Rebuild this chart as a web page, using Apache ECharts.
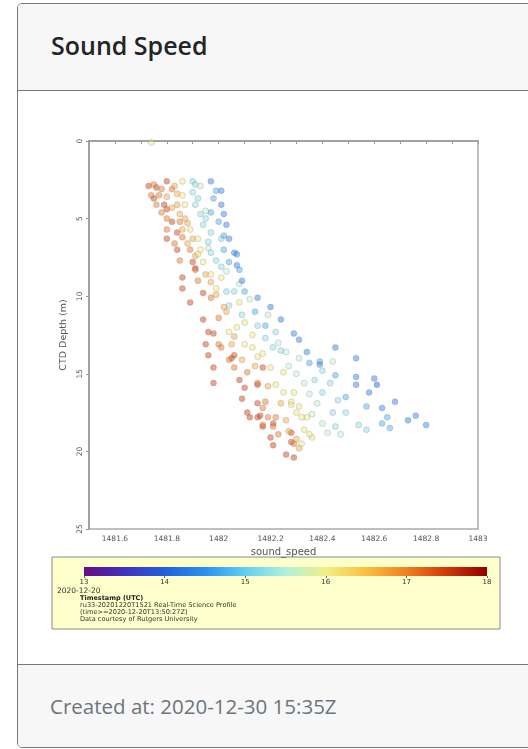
<!DOCTYPE html>
<html>
<head>
<meta charset="utf-8">
<title>Sound Speed</title>
<script src="https://cdn.jsdelivr.net/npm/echarts@6/dist/echarts.min.js"></script>
<style>
  html, body { margin: 0; padding: 0; background: #fff; width: 528px; height: 749px; overflow: hidden; font-family: "Open Sans", sans-serif; }
  .card { position: absolute; left: 17px; top: 3px; width: 600px; height: 745px; border: 1px solid #777; border-radius: 5px; background: #fff; box-sizing: border-box; overflow: hidden; }
  .card-header { height: 87px; background: #f7f7f7; border-bottom: 1px solid #777; box-sizing: border-box; padding: 0 0 4px 33px; display: flex; align-items: center; font-size: 25px; font-weight: 600; color: #212529; }
  .card-footer { position: absolute; left: 0; right: 0; bottom: 0; height: 83px; background: #f7f7f7; border-top: 1px solid #777; box-sizing: border-box; padding-left: 32px; display: flex; align-items: center; font-size: 20.5px; color: #6c757d; }
  #chart { position: absolute; left: 0; top: 0; width: 528px; height: 749px; }
</style>
</head>
<body>
<div class="card">
  <div class="card-header">Sound Speed</div>
  <div class="card-footer">Created at: 2020-12-30 15:35Z</div>
</div>
<div id="chart"></div>
<script>
// [sound_speed, depth] per profile, colour = hour of 2020-12-20 (UTC)
var redPts = [
  [1481.73, 2.9], [1481.76, 3.0], [1481.80, 2.6], [1481.75, 3.7], [1481.79, 4.1], [1481.80, 4.4],
  [1481.82, 5.2], [1481.84, 5.9], [1481.80, 6.3], [1481.84, 7.0], [1481.90, 7.8], [1481.91, 8.2],
  [1481.86, 8.8], [1481.86, 9.5], [1481.94, 9.8], [1481.89, 10.4], [1481.94, 11.5], [1481.98, 12.4],
  [1481.95, 13.1], [1481.96, 13.8], [1482.06, 13.8], [1481.96, 12.3], [1481.98, 14.6], [1481.98, 15.6],
  [1482.05, 14.0], [1482.08, 15.4], [1482.11, 17.5], [1482.15, 15.7], [1482.15, 16.9], [1482.20, 19.1],
  [1482.21, 19.6], [1482.26, 20.2], [1482.17, 18.4], [1482.21, 18.2], [1482.10, 15.9], [1482.09, 16.6],
  [1482.15, 17.8], [1482.28, 18.8], [1482.28, 19.4], [1482.29, 20.4], [1482.17, 14.6], [1482.12, 17.8],
  [1482.16, 17.7]
];
var orangePts = [
  [1481.75, 2.8], [1481.78, 3.1], [1481.82, 3.1], [1481.74, 3.5], [1481.77, 3.5], [1481.76, 4.1],
  [1481.78, 4.6], [1481.80, 5.0], [1481.85, 5.2], [1481.80, 5.7], [1481.83, 6.6], [1481.86, 6.2],
  [1481.89, 7.0], [1481.85, 7.7], [1481.91, 8.3], [1481.92, 9.0], [1481.97, 10.1], [1482.00, 11.4],
  [1482.00, 13.1], [1482.04, 14.1], [1482.01, 13.3], [1482.06, 14.6], [1482.11, 14.9], [1482.22, 17.8],
  [1482.17, 17.2], [1482.19, 17.8], [1482.17, 18.3], [1482.21, 18.4], [1482.23, 18.9], [1482.15, 15.6],
  [1482.18, 16.8], [1482.29, 19.5]
];
var lightOrangePts = [
  [1481.80, 3.6], [1481.84, 4.1], [1481.85, 4.7], [1481.88, 5.3], [1481.86, 5.7], [1481.90, 6.3],
  [1481.97, 9.1], [1482.02, 10.7], [1482.05, 13.1], [1481.83, 2.9], [1481.84, 3.4], [1481.82, 4.3],
  [1481.87, 5.0], [1481.88, 6.6], [1481.91, 7.4], [1481.95, 8.6], [1481.99, 9.9], [1482.03, 11.0],
  [1482.06, 12.6], [1482.09, 14.1], [1482.14, 14.5], [1482.19, 15.8], [1482.24, 16.9], [1482.26, 18.0],
  [1482.27, 18.7], [1482.30, 19.2], [1482.31, 19.8]
];
var yellowPts = [
  [1481.74, 0.1], [1481.86, 2.6], [1481.86, 3.5], [1481.87, 4.1], [1481.89, 5.7], [1481.92, 6.3],
  [1481.92, 7.3], [1481.94, 7.8], [1481.93, 7.0], [1481.97, 8.6], [1482.01, 8.8], [1481.99, 9.5],
  [1482.08, 10.4], [1482.04, 12.3], [1482.10, 11.7], [1482.10, 13.1], [1482.15, 13.9], [1482.13, 12.5],
  [1482.07, 12.0], [1482.25, 14.9], [1482.29, 16.2], [1482.31, 17.1], [1482.34, 17.8], [1482.36, 19.1],
  [1482.33, 18.6], [1482.28, 16.8], [1482.22, 15.7], [1482.20, 14.6], [1482.17, 13.7], [1482.13, 13.3],
  [1482.25, 16.2], [1482.28, 17.0], [1482.30, 17.5], [1482.32, 17.8], [1482.35, 18.9], [1482.32, 19.5]
];
var mintPts = [
  [1482.23, 13.0], [1482.26, 13.6], [1482.27, 14.5], [1482.30, 15.0], [1482.31, 14.0], [1482.33, 15.6],
  [1482.35, 16.3], [1482.38, 16.9], [1482.36, 17.6], [1482.40, 18.2], [1482.42, 18.8], [1482.47, 18.9],
  [1482.44, 14.2], [1482.19, 11.2], [1482.12, 10.2], [1482.08, 9.2], [1482.03, 8.4], [1481.96, 6.9],
  [1481.95, 4.5], [1481.93, 2.9]
];
var cyanPts = [
  [1481.90, 2.6], [1481.91, 2.8], [1481.90, 3.3], [1481.92, 3.7], [1481.91, 4.1], [1481.93, 4.7],
  [1481.95, 5.0], [1481.94, 5.4], [1481.97, 5.9], [1481.96, 6.5], [1481.97, 7.2], [1481.99, 7.7],
  [1482.01, 6.3], [1482.01, 8.1], [1482.03, 9.7], [1482.06, 9.7], [1482.04, 10.6], [1482.09, 11.2],
  [1482.15, 11.9], [1482.18, 12.7], [1482.21, 13.3], [1482.24, 13.5], [1482.22, 12.3], [1482.43, 15.6],
  [1482.46, 16.7], [1482.45, 18.4], [1482.54, 18.3], [1482.57, 18.6], [1482.49, 17.5], [1482.44, 17.5],
  [1482.40, 16.2], [1482.37, 15.4], [1482.40, 14.8]
];
var lightBluePts = [
  [1481.99, 3.2], [1481.98, 3.7], [1481.97, 4.6], [1482.00, 5.2], [1482.02, 6.1], [1482.02, 7.0],
  [1482.04, 7.8], [1482.08, 8.3], [1482.10, 9.7], [1482.14, 11.0], [1482.39, 14.2], [1482.18, 11.9],
  [1482.35, 14.3], [1482.45, 15.1], [1482.49, 16.5], [1482.57, 17.1], [1482.65, 17.8], [1482.66, 18.5],
  [1482.63, 18.2]
];
var bluePts = [
  [1481.97, 2.6], [1482.01, 3.2], [1482.01, 4.1], [1482.02, 4.7], [1482.03, 5.4], [1482.04, 6.3],
  [1482.06, 7.2], [1482.07, 8.0], [1482.07, 7.3], [1482.09, 9.0], [1482.20, 10.7], [1482.15, 10.1],
  [1482.24, 11.5], [1482.29, 12.4], [1482.31, 12.8], [1482.34, 13.6], [1482.39, 14.4], [1482.45, 13.3],
  [1482.53, 14.0], [1482.53, 15.7], [1482.60, 15.3], [1482.58, 16.2], [1482.63, 17.2], [1482.68, 16.8],
  [1482.73, 18.0], [1482.76, 17.7], [1482.80, 18.3], [1482.53, 15.2]
];
var purplePts = [[1482.61, 15.7]];

var profiles = [
  { hour: 17.5, pts: redPts },
  { hour: 17.1, pts: orangePts },
  { hour: 16.7, pts: lightOrangePts },
  { hour: 16.1, pts: yellowPts },
  { hour: 15.6, pts: mintPts },
  { hour: 15.2, pts: cyanPts },
  { hour: 14.7, pts: lightBluePts },
  { hour: 14.3, pts: bluePts },
  { hour: 13.9, pts: purplePts }
];

var depthTicks = [0, 5, 10, 15, 20, 25];
var hourTicks = [13, 14, 15, 16, 17, 18];
var rampColors = ['#6a0a8a', '#4030c0', '#2060e0', '#2a90f0', '#60d0f0', '#b0f0e0',
                  '#f0f080', '#f8c040', '#f08020', '#d03808', '#900000'];
var legendLines = [
  'ru33-20201220T1521 Real-Time Science Profile',
  '(time>=2020-12-20T13:50:27Z)',
  'Data courtesy of Rutgers University'
];

var font = '"DejaVu Sans", sans-serif';

var data = [];
profiles.forEach(function (p) {
  p.pts.forEach(function (d) { data.push([d[0], d[1], p.hour]); });
});

var stops = rampColors.map(function (c, i) {
  return { offset: i / (rampColors.length - 1), color: c };
});

var graphics = [
  { type: 'rect', z: -10, shape: { x: 52, y: 557, width: 448, height: 72 },
    style: { fill: '#ffffcc', stroke: '#8a8a8a', lineWidth: 1 } },
  { type: 'rect', z: -5, shape: { x: 84, y: 567, width: 403, height: 9 },
    style: { fill: new echarts.graphic.LinearGradient(0, 0, 1, 0, stops) } },
  { type: 'text', x: 57, y: 591,
    style: { text: '2020-12-20', fontSize: 7.5, fontFamily: font, fill: '#333', verticalAlign: 'middle' } },
  { type: 'text', x: 80, y: 598,
    style: { text: 'Timestamp (UTC)', fontSize: 6.5, fontWeight: 'bold', fontFamily: font, fill: '#222', verticalAlign: 'middle' } }
];
legendLines.forEach(function (t, i) {
  graphics.push({ type: 'text', x: 80, y: 605 + i * 7,
    style: { text: t, fontSize: 6.6, fontFamily: font, fill: '#333', verticalAlign: 'middle' } });
});

var myChart = echarts.init(document.getElementById('chart'));
var option = {
  animation: false,
  textStyle: { fontFamily: font },
  grid: [
    { left: 89, top: 141, width: 389, height: 388, show: true, borderColor: '#aaa', borderWidth: 1.5 },
    { left: 84, top: 567, width: 403, height: 9 }
  ],
  xAxis: [
    {
      type: 'value', gridIndex: 0, min: 1481.5, max: 1483, interval: 0.1,
      name: 'sound_speed', nameLocation: 'middle', nameGap: 15,
      nameTextStyle: { fontSize: 10, color: '#555', fontFamily: font },
      axisLine: { show: true, lineStyle: { color: '#999', width: 1.5 } },
      axisTick: { show: true, length: 3, lineStyle: { color: '#999' } },
      axisLabel: {
        fontSize: 7.5, color: '#555', margin: 6, fontFamily: font,
        formatter: function (v) {
          return Math.round(v * 10) % 2 === 0 ? String(+v.toFixed(1)) : '';
        }
      },
      splitLine: { show: false }
    },
    {
      type: 'value', gridIndex: 1, min: hourTicks[0], max: hourTicks[hourTicks.length - 1], interval: 1,
      axisLine: { show: false },
      axisTick: { show: true, length: 2, lineStyle: { color: '#666' } },
      axisLabel: { fontSize: 7, color: '#333', margin: 3, fontFamily: font },
      splitLine: { show: false }
    }
  ],
  yAxis: [
    {
      type: 'value', gridIndex: 0, inverse: true, min: depthTicks[0], max: depthTicks[depthTicks.length - 1], interval: 5,
      name: 'CTD Depth (m)', nameLocation: 'middle', nameRotate: 90, nameGap: 11,
      nameTextStyle: { fontSize: 9.5, color: '#555', fontFamily: font },
      axisLine: { show: true, lineStyle: { color: '#999', width: 1.5 } },
      axisTick: { show: true, length: 3, lineStyle: { color: '#999' } },
      axisLabel: { fontSize: 7.5, color: '#555', margin: 5, rotate: 90, fontFamily: font },
      splitLine: { show: false }
    },
    { type: 'value', gridIndex: 1, show: false }
  ],
  visualMap: {
    type: 'continuous', show: false, min: 13, max: 18, dimension: 2, seriesIndex: 0,
    inRange: { color: rampColors }
  },
  graphic: graphics,
  series: [
    {
      type: 'scatter', xAxisIndex: 0, yAxisIndex: 0, symbolSize: 6, data: data,
      itemStyle: { opacity: 0.45, borderColor: 'rgba(90,90,90,0.45)', borderWidth: 1 }
    }
  ]
};
myChart.setOption(option);
</script>
</body>
</html>
